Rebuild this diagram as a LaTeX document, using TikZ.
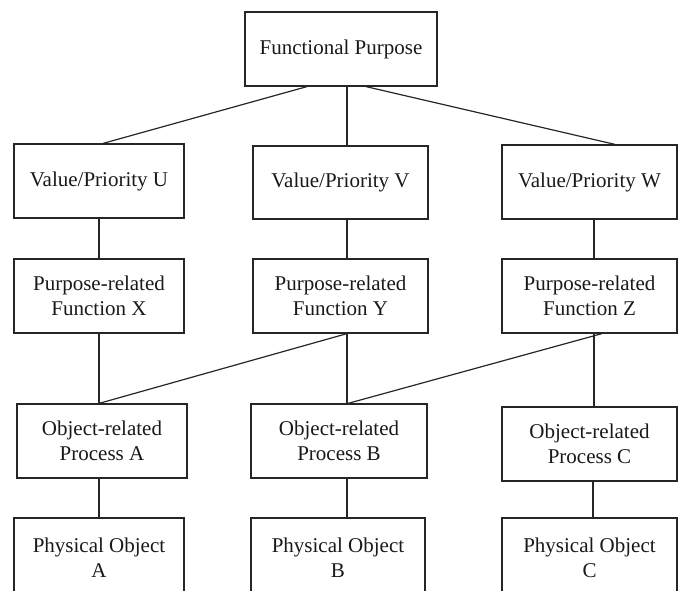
\documentclass[tikz,border=0pt]{standalone}
\usepackage{fontspec}
\setmainfont{Liberation Serif}
\begin{document}
\begin{tikzpicture}[x=1pt,y=-1pt,
  box/.style={draw=black!85, line width=1.2pt, inner sep=0pt, align=center,
    font=\fontsize{21}{25}\selectfont, text=black!90, minimum height=74},
  conn/.style={draw=black!85, line width=1.2pt}]
\useasboundingbox (0,0) rectangle (681,590);
% level 1
\node[box, minimum width=192] (fp) at (341,49) {Functional Purpose};
% level 2
\node[box, minimum width=170] (vu) at (99,181) {Value/Priority U};
\node[box, minimum width=175, minimum height=73] (vv) at (340.5,182.5) {Value/Priority V};
\node[box, minimum width=175] (vw) at (589.5,182) {Value/Priority W};
% level 3
\node[box, minimum width=170] (px) at (99,296) {Purpose-related\\Function X};
\node[box, minimum width=175] (py) at (340.5,296) {Purpose-related\\Function Y};
\node[box, minimum width=175] (pz) at (589.5,296) {Purpose-related\\Function Z};
% level 4
\node[box, minimum width=170] (oa) at (102,441) {Object-related\\Process A};
\node[box, minimum width=176] (ob) at (339,441) {Object-related\\Process B};
\node[box, minimum width=175] (oc) at (589.5,444) {Object-related\\Process C};
% level 5
\node[box, minimum width=170, minimum height=80] (pa) at (99,558) {Physical Object\\A};
\node[box, minimum width=174, minimum height=80] (pb) at (338,558) {Physical Object\\B};
\node[box, minimum width=175, minimum height=80] (pc) at (589.5,558) {Physical Object\\C};
% connectors
\draw[conn] ([xshift=-34]fp.south) -- ([xshift=4]vu.north);
\draw[conn] ([xshift=6]fp.south) -- ([xshift=6.5]vv.north);
\draw[conn] ([xshift=25]fp.south) -- ([xshift=25.5]vw.north);
\draw[conn] (vu.south) -- (px.north);
\draw[conn] ([xshift=6.5]vv.south) -- ([xshift=6.5]py.north);
\draw[conn] ([xshift=4.5]vw.south) -- ([xshift=4.5]pz.north);
\draw[conn] (px.south) -- ([xshift=-3]oa.north);
\draw[conn] ([xshift=6.5]py.south) -- ([xshift=-3]oa.north);
\draw[conn] ([xshift=6.5]py.south) -- ([xshift=8]ob.north);
\draw[conn] ([xshift=12.5]pz.south) -- ([xshift=9]ob.north);
\draw[conn] ([xshift=4.5]pz.south) -- ([xshift=4.5]oc.north);
\draw[conn] ([xshift=-3]oa.south) -- (pa.north);
\draw[conn] ([xshift=8]ob.south) -- ([xshift=9]pb.north);
\draw[conn] ([xshift=3.5]oc.south) -- ([xshift=3.5]pc.north);
\end{tikzpicture}
\end{document}
